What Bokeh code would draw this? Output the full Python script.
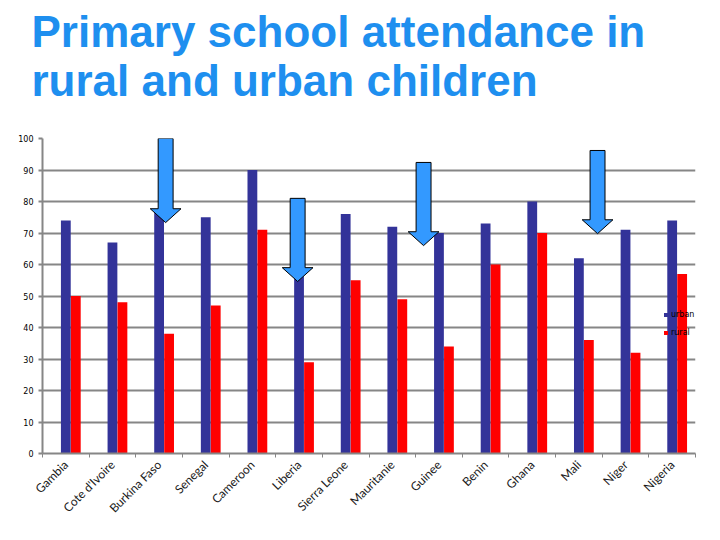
import numpy as np
from bokeh.plotting import figure
from bokeh.models import (Range1d, FixedTicker, Title, Legend, LegendItem,
                          ColumnDataSource)
from bokeh.transform import dodge
from bokeh.embed import file_html
from bokeh.resources import INLINE

countries = ["Gambia", "Cote d'Ivoire", "Burkina Faso", "Senegal", "Cameroon",
             "Liberia", "Sierra Leone", "Mauritanie", "Guinee", "Benin",
             "Ghana", "Mali", "Niger", "Nigeria"]
urban = [74, 67, 77, 75, 90, 57, 76, 72, 70, 73, 80, 62, 71, 74]
rural = [50, 48, 38, 47, 71, 29, 55, 49, 34, 60, 70, 36, 32, 57]
y_ticks = [0, 10, 20, 30, 40, 50, 60, 70, 80, 90, 100]

# highlight arrows: horizontal position (category index units), top and tip values
arrow_pos = [2.64, 5.47, 8.17, 11.9]
arrow_top = [100, 81, 92.4, 96.2]
arrow_tip = [73.3, 54.6, 66.0, 69.8]

title_lines = ["Primary school attendance in", "rural and urban children"]

n = len(countries)
centers = [i + 0.5 for i in range(n)]
bounds = [float(i) for i in range(n + 1)]

p = figure(width=704, height=524, x_range=Range1d(0, n), y_range=Range1d(0, 100),
           output_backend="svg", toolbar_location=None,
           min_border_left=42, min_border_right=9, min_border_top=138,
           min_border_bottom=71)
p.outline_line_color = None
p.background_fill_color = "white"
p.xgrid.visible = False
p.ygrid.grid_line_color = "#868686"
p.ygrid.grid_line_width = 2
p.ygrid.ticker = FixedTicker(ticks=y_ticks)

src = ColumnDataSource(dict(x=centers, urban=urban, rural=rural))
ru = p.vbar(x=dodge("x", 0.0, range=p.x_range), top="urban", width=0.21,
            bottom=0, source=src, fill_color="#333399", line_color=None)
rr = p.vbar(x=dodge("x", 0.214, range=p.x_range), top="rural", width=0.21,
            bottom=0, source=src, fill_color="#FF0000", line_color=None)

# arrows
sw, hw, hh = 0.16, 0.33, 4.4
xs, ys = [], []
for x, t, b in zip(arrow_pos, arrow_top, arrow_tip):
    xs.append([x - sw, x + sw, x + sw, x + hw, x, x - hw, x - sw])
    ys.append([t, t, b + hh, b + hh, b, b + hh, b + hh])
p.patches(xs, ys, fill_color="#3399FF", line_color="black", line_width=1)

# axes
p.yaxis.ticker = FixedTicker(ticks=y_ticks)
p.yaxis.axis_line_color = "#868686"
p.yaxis.axis_line_width = 2
p.yaxis.major_tick_line_color = "#868686"
p.yaxis.major_tick_line_width = 2
p.yaxis.major_tick_out = 4
p.yaxis.major_tick_in = 0
p.yaxis.minor_tick_line_color = None
p.yaxis.major_label_text_font = "DejaVu Sans"
p.yaxis.major_label_text_font_size = "8px"
p.yaxis.major_label_text_color = "black"
p.yaxis.major_label_standoff = 5

p.xaxis.ticker = FixedTicker(ticks=centers, minor_ticks=bounds)
p.xaxis.major_label_overrides = {c: name for c, name in zip(centers, countries)}
p.xaxis.major_label_orientation = np.pi / 4
p.xaxis.axis_line_color = "#868686"
p.xaxis.axis_line_width = 2
p.xaxis.major_tick_line_color = None
p.xaxis.minor_tick_line_color = "#868686"
p.xaxis.minor_tick_line_width = 1
p.xaxis.minor_tick_out = 4
p.xaxis.minor_tick_in = 0
p.xaxis.major_label_text_font = "Lato"
p.xaxis.major_label_text_font_size = "12px"
p.xaxis.major_label_text_color = "#1a1a1a"
p.xaxis.major_label_standoff = 3

legend = Legend(items=[LegendItem(label="urban", renderers=[ru]),
                       LegendItem(label="rural", renderers=[rr])],
                location=(621, 113), glyph_width=5, glyph_height=5,
                label_height=16, spacing=2, padding=0, margin=0,
                label_standoff=3, label_text_font="DejaVu Sans",
                label_text_font_size="8px", label_text_color="black",
                background_fill_alpha=0, border_line_color=None)
p.add_layout(legend)

# spacer between frame and title
p.add_layout(Title(text=" ", text_font_size="1px", standoff=30), "above")
p.add_layout(Title(text="\n".join(title_lines), align="left", offset=-11,
                   standoff=0, text_font="Liberation Sans",
                   text_font_size="44px", text_font_style="bold",
                   text_color="#1E8FEF", text_line_height=1.01), "above")

open("out.html", "w").write(file_html(p, INLINE))
